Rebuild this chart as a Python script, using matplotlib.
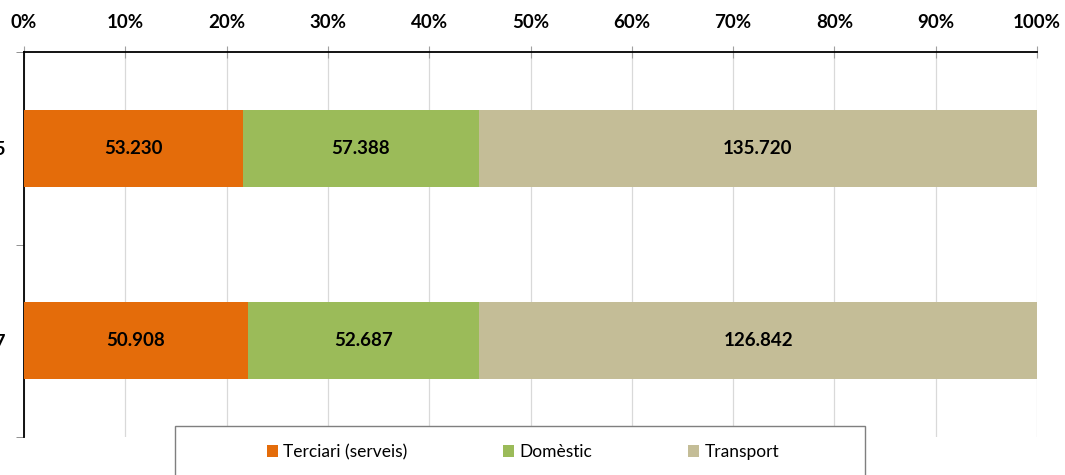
import matplotlib.pyplot as plt
from matplotlib.patches import Rectangle

# data
years = ["2005", "2007"]
series = ["Terciari (serveis)", "Domèstic", "Transport"]
terciari = [53230, 50908]
domestic = [57388, 52687]
transport = [135720, 126842]
colors = ["#E46C0A", "#9BBB59", "#C4BD97"]
xticks = [0, 10, 20, 30, 40, 50, 60, 70, 80, 90, 100]

plt.rcParams['font.family'] = ['Lato', 'DejaVu Sans']

fig = plt.figure(figsize=(10.65, 4.75), dpi=100)
ax = fig.add_axes([24/1065, 1-437/475, 1013/1065, 385/475])

values = [terciari, domestic, transport]
totals = [sum(v[i] for v in values) for i in range(len(years))]
left = [0.0] * len(years)
for name, vals, col in zip(series, values, colors):
    pct = [vals[i] / totals[i] * 100 for i in range(len(years))]
    bars = ax.barh(range(len(years)), pct, left=left, height=0.40,
                   color=col, label=name, zorder=3)
    for i, b in enumerate(bars):
        ax.text(left[i] + pct[i] / 2, i, f"{vals[i]:,}".replace(",", "."),
                ha="center", va="center", fontsize=13.5, fontweight="bold",
                zorder=4)
    left = [left[i] + pct[i] for i in range(len(years))]

ax.set_xlim(0, 100)
ax.set_ylim(1.5, -0.5)
ax.xaxis.tick_top()
ax.set_xticks(xticks)
ax.set_xticklabels([f"{t}%" for t in xticks], fontsize=13.5, fontweight="bold")
ax.tick_params(axis="x", direction="inout", length=8, color="#A0A0A0", pad=11)
ax.grid(axis="x", color="#D9D9D9", linewidth=0.9, zorder=0)

ax.set_yticks(range(len(years)))
ax.set_yticklabels(years, fontsize=13.5, fontweight="bold")
ax.set_yticks([-0.5, 0.5, 1.5], minor=True)
ax.tick_params(axis="y", which="major", length=0, pad=13)
ax.tick_params(axis="y", which="minor", length=6, color="#808080")

for s in ["right", "bottom"]:
    ax.spines[s].set_visible(False)
ax.spines["top"].set_linewidth(1.3)
ax.spines["left"].set_linewidth(1.3)

# legend box
fig.patches.append(Rectangle((175/1065, 1-480/475), 690/1065, 54/475,
                             transform=fig.transFigure, facecolor="white",
                             edgecolor="#7F7F7F", linewidth=1.0, zorder=5))
leg = fig.legend(loc="center", bbox_to_anchor=(523/1065, 1-452/475), ncol=3,
                 frameon=False, fontsize=12.5, handlelength=0.65, handleheight=0.65,
                 handletextpad=0.3, columnspacing=5.5)
leg.set_zorder(6)

fig.savefig("out.png", dpi=100)
